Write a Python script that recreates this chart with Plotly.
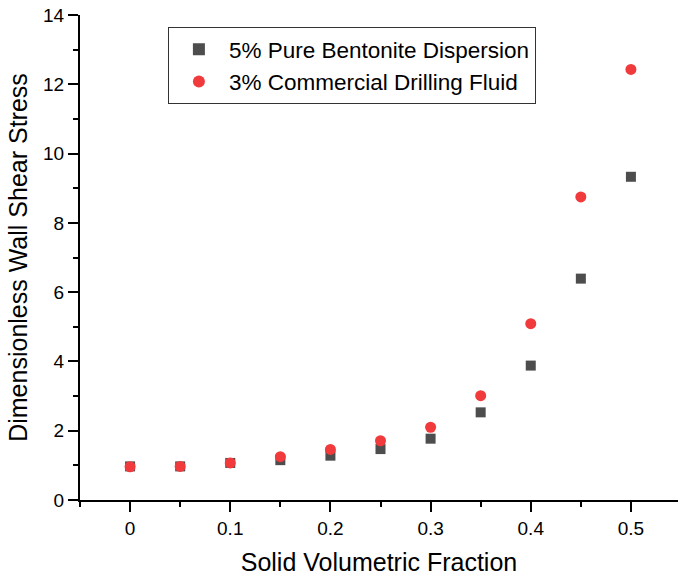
import plotly.graph_objects as go

x_vals = [0, 0.05, 0.1, 0.15, 0.2, 0.25, 0.3, 0.35, 0.4, 0.45, 0.5]
bentonite = [0.97, 0.97, 1.07, 1.15, 1.28, 1.47, 1.77, 2.53, 3.88, 6.39, 9.33]
drilling = [0.96, 0.97, 1.07, 1.25, 1.46, 1.71, 2.10, 3.01, 5.09, 8.75, 12.43]
name_b = "5% Pure Bentonite Dispersion"
name_d = "3% Commercial Drilling Fluid"

FONT = "Liberation Sans, Arial, sans-serif"

fig = go.Figure()
fig.add_trace(go.Scatter(x=x_vals, y=bentonite, mode="markers", name=name_b,
                         marker=dict(symbol="square", size=10, color="#4d4d4d")))
fig.add_trace(go.Scatter(x=x_vals, y=drilling, mode="markers", name=name_d,
                         marker=dict(symbol="circle", size=11, color="#f03a3c")))

axis_common = dict(showline=True, linecolor="black", linewidth=2, ticks="outside",
                   ticklen=10, tickwidth=2, tickcolor="black", showgrid=False, zeroline=False,
                   tickfont=dict(family=FONT, size=19, color="black"))

fig.update_xaxes(range=[-0.05, 0.547], tickmode="linear", tick0=0, dtick=0.1,
                 title=dict(text="Solid Volumetric Fraction", font=dict(family=FONT, size=25, color="black"), standoff=16),
                 **axis_common)
fig.update_xaxes(minor_ticks="outside", minor_ticklen=5, minor_tickwidth=2,
                 minor_tickcolor="black", minor_dtick=0.05)
fig.update_yaxes(range=[0, 14], tickmode="linear", tick0=0, dtick=2,
                 title=dict(text="Dimensionless Wall Shear Stress", font=dict(family=FONT, size=25, color="black"), standoff=8),
                 **axis_common)
fig.update_yaxes(minor_ticks="outside", minor_ticklen=5, minor_tickwidth=2,
                 minor_tickcolor="black", minor_dtick=1)

fig.update_layout(
    width=678, height=577,
    margin=dict(l=80, r=0, t=15, b=77),
    plot_bgcolor="white", paper_bgcolor="white",
    showlegend=True,
    legend=dict(x=0.147, y=0.975, xanchor="left", yanchor="top",
                bgcolor="white", bordercolor="#333333", borderwidth=1,
                font=dict(family=FONT, size=22.5, color="black"),
                itemwidth=50, itemsizing="constant"),
)

fig.write_html("out.html")
